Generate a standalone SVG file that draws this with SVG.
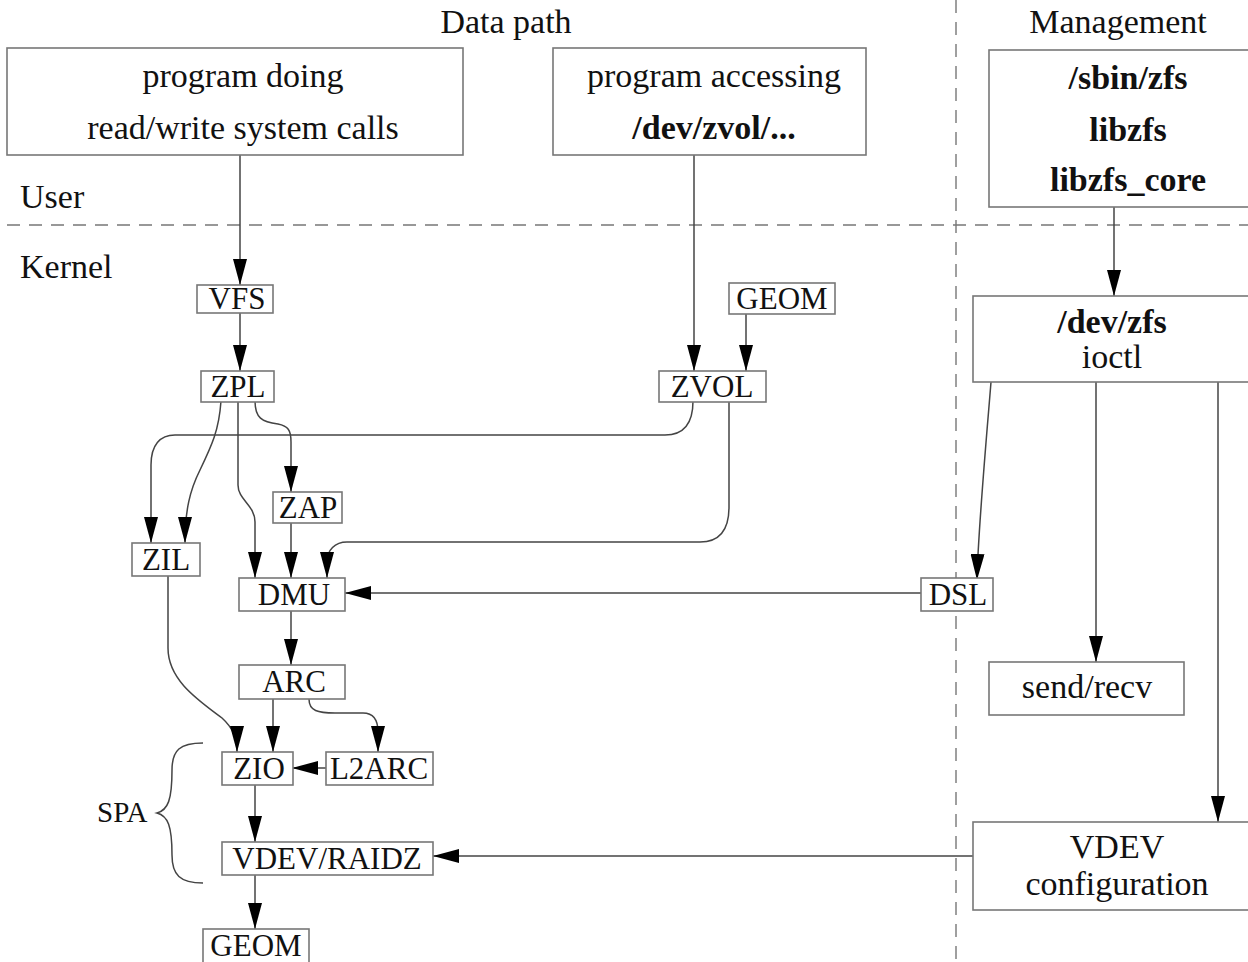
<svg xmlns="http://www.w3.org/2000/svg" width="1248" height="962" viewBox="0 0 1248 962">
<style>
.box{fill:#fff;stroke:#777;stroke-width:1.6}
.big{font-family:"Liberation Serif","Times New Roman",serif;font-size:34px;fill:#111;text-anchor:middle}
.sm{font-family:"Liberation Serif","Times New Roman",serif;font-size:31px;fill:#111;text-anchor:middle}
.lbl{font-family:"Liberation Serif","Times New Roman",serif;font-size:34px;fill:#111}
.b{font-weight:bold}
.dash{stroke:#777;stroke-width:1.4;fill:none;stroke-dasharray:13 9}
.c{fill:none;stroke:#444;stroke-width:1.5}
</style>
<defs>
<marker id="ah" viewBox="0 0 26 14" refX="26" refY="7" markerWidth="26" markerHeight="14" markerUnits="userSpaceOnUse" orient="auto">
<path d="M0,0 L26,7 L0,14 z" fill="#000"/>
</marker>
</defs>
<rect width="1248" height="962" fill="#fff"/>

<g id="dividers">
<line class="dash" x1="7" y1="225" x2="1248" y2="225"/>
<line class="dash" x1="956" y1="0" x2="956" y2="962"/>
</g>
<g id="labels">
<text class="big" x="506" y="33">Data path</text>
<text class="big" x="1118" y="33">Management</text>
<text class="lbl" x="20" y="208">User</text>
<text class="lbl" x="20" y="278">Kernel</text>
<text class="lbl" x="97" y="822" style="font-size:29px">SPA</text>
<path class="c" d="M203,743 C180,743 172,750 172,770 C172,800 168,810 157,813 C168,816 172,826 172,855 C172,875 180,883 203,883" stroke="#555"/>
</g>

<g id="connectors">
<path class="c" marker-end="url(#ah)" d="M240,155 V285"/>
<path class="c" marker-end="url(#ah)" d="M240,313 V371"/>
<path class="c" marker-end="url(#ah)" d="M694,155 V371"/>
<path class="c" marker-end="url(#ah)" d="M746,314 V371"/>
<path class="c" marker-end="url(#ah)" d="M1114,207 V296"/>
<path class="c" marker-end="url(#ah)" d="M221,401 C219,430 212,445 200,470 C190,490 185,510 185,543"/>
<path class="c" marker-end="url(#ah)" d="M693,401 C693,425 682,435 665,435 H175 C160,435 151,445 151,465 V543"/>
<path class="c" marker-end="url(#ah)" d="M238,401 V485 C238,500 255,505 255,522 V578"/>
<path class="c" marker-end="url(#ah)" d="M255,401 C255,418 262,422 278,424 C288,426 291,430 291,442 V492"/>
<path class="c" marker-end="url(#ah)" d="M291,522 V578"/>
<path class="c" marker-end="url(#ah)" d="M729,401 V507 C729,532 718,542 700,542 H347 C335,542 327,550 327,562 V578"/>
<path class="c" marker-end="url(#ah)" d="M921,593 H345"/>
<path class="c" marker-end="url(#ah)" d="M991,382 C988,420 978,530 977,580"/>
<path class="c" marker-end="url(#ah)" d="M1096,382 V662"/>
<path class="c" marker-end="url(#ah)" d="M1218,382 V822"/>
<path class="c" marker-end="url(#ah)" d="M973,856 H433"/>
<path class="c" marker-end="url(#ah)" d="M291,611 V665"/>
<path class="c" marker-end="url(#ah)" d="M168,576 V648 C168,680 198,700 222,718 C233,728 237,738 237,752"/>
<path class="c" marker-end="url(#ah)" d="M273,699 V752"/>
<path class="c" marker-end="url(#ah)" d="M309,699 C309,711 318,713 335,713 H363 C374,713 378,720 378,732 V752"/>
<path class="c" marker-end="url(#ah)" d="M326,768 H292"/>
<path class="c" marker-end="url(#ah)" d="M255,785 V842"/>
<path class="c" marker-end="url(#ah)" d="M255,875 V929"/>
</g>

<g id="prog-rw">
<rect class="box" x="7" y="48" width="456" height="107"/>
<text class="big" x="243" y="87">program doing</text>
<text class="big" x="243" y="139">read/write system calls</text>
</g>
<g id="prog-zvol">
<rect class="box" x="553" y="48" width="313" height="107"/>
<text class="big" x="714" y="87">program accessing</text>
<text class="big b" x="714" y="139">/dev/zvol/...</text>
</g>
<g id="mgmt-tools">
<rect class="box" x="989" y="50" width="265" height="157"/>
<text class="big b" x="1128" y="89">/sbin/zfs</text>
<text class="big b" x="1128" y="141">libzfs</text>
<text class="big b" x="1128" y="191">libzfs_core</text>
</g>
<g id="vfs">
<rect class="box" x="197" y="285" width="76" height="28"/>
<text class="sm" x="237" y="309">VFS</text>
</g>
<g id="zpl">
<rect class="box" x="201" y="371" width="73" height="31"/>
<text class="sm" x="238" y="397">ZPL</text>
</g>
<g id="geom-top">
<rect class="box" x="729" y="283" width="106" height="31"/>
<text class="sm" x="782" y="309">GEOM</text>
</g>
<g id="zvol">
<rect class="box" x="659" y="371" width="107" height="31"/>
<text class="sm" x="712" y="397">ZVOL</text>
</g>
<g id="dev-zfs">
<rect class="box" x="973" y="296" width="281" height="86"/>
<text class="big b" x="1112" y="333">/dev/zfs</text>
<text class="big" x="1112" y="368">ioctl</text>
</g>
<g id="zap">
<rect class="box" x="273" y="492" width="69" height="31"/>
<text class="sm" x="308" y="518">ZAP</text>
</g>
<g id="zil">
<rect class="box" x="132" y="543" width="68" height="33"/>
<text class="sm" x="166" y="570">ZIL</text>
</g>
<g id="dmu">
<rect class="box" x="239" y="578" width="106" height="33"/>
<text class="sm" x="294" y="605">DMU</text>
</g>
<g id="dsl">
<rect class="box" x="921" y="578" width="72" height="33"/>
<text class="sm" x="958" y="605">DSL</text>
</g>
<g id="arc">
<rect class="box" x="239" y="665" width="106" height="34"/>
<text class="sm" x="294" y="692">ARC</text>
</g>
<g id="send-recv">
<rect class="box" x="989" y="662" width="195" height="53"/>
<text class="big" x="1087" y="698">send/recv</text>
</g>
<g id="zio">
<rect class="box" x="222" y="752" width="71" height="33"/>
<text class="sm" x="259" y="779">ZIO</text>
</g>
<g id="l2arc">
<rect class="box" x="326" y="752" width="107" height="33"/>
<text class="sm" x="379" y="779">L2ARC</text>
</g>
<g id="vdev-raidz">
<rect class="box" x="222" y="842" width="211" height="33"/>
<text class="sm" x="327" y="869">VDEV/RAIDZ</text>
</g>
<g id="vdev-config">
<rect class="box" x="973" y="822" width="281" height="88"/>
<text class="big" x="1117" y="858">VDEV</text>
<text class="big" x="1117" y="895">configuration</text>
</g>
<g id="geom-bottom">
<rect class="box" x="203" y="929" width="106" height="36"/>
<text class="sm" x="256" y="956">GEOM</text>
</g>
</svg>
